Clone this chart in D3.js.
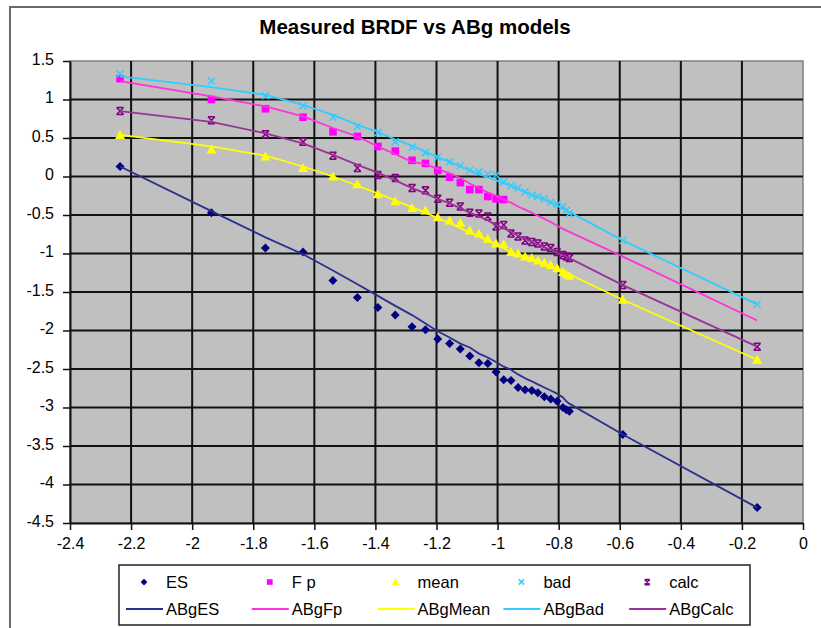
<!DOCTYPE html>
<html>
<head>
<meta charset="utf-8">
<script src="https://cdn.jsdelivr.net/npm/d3@7"></script>
<style>
    body { margin: 0; background: #fff; }
    text { font-family: Arial, "Liberation Sans", sans-serif; }
</style>
</head>
<body>
<div id="chart"></div>
<script>
// x values shared by every series (log scale angle)
const logAngle = [-2.236, -1.937, -1.760, -1.637, -1.539, -1.459, -1.392, -1.335, -1.280, -1.236,
    -1.196, -1.157, -1.122, -1.091, -1.061, -1.032, -1.005, -0.980, -0.956, -0.933,
    -0.910, -0.888, -0.868, -0.847, -0.826, -0.805, -0.786, -0.775, -0.765, -0.590, -0.150];

// measured BRDF
const esVals = [0.13, -0.47, -0.93, -0.98, -1.35, -1.57, -1.70, -1.80, -1.95, -1.99,
    -2.11, -2.17, -2.24, -2.33, -2.42, -2.43, -2.54, -2.64, -2.65, -2.74,
    -2.77, -2.78, -2.81, -2.86, -2.89, -2.92, -3.00, -3.03, -3.05, -3.35, -4.30];
const fpVals = [1.27, 1.00, 0.88, 0.77, 0.58, 0.52, 0.39, 0.33, 0.21, 0.17,
    0.08, -0.01, -0.08, -0.17, -0.17, -0.26, -0.29, -0.30, null, null,
    null, null, null, null, null, null, null, null, null, null, null];
const meanVals = [0.54, 0.35, 0.26, 0.11, 0.00, -0.10, -0.23, -0.32, -0.41, -0.44,
    -0.53, -0.57, -0.60, -0.70, -0.74, -0.81, -0.87, -0.88, -0.98, -1.00,
    -1.04, -1.06, -1.09, -1.12, -1.15, -1.19, -1.24, -1.27, -1.29, -1.60, -2.38];
const badVals = [1.33, 1.24, 1.05, 0.92, 0.77, 0.65, 0.57, 0.45, 0.38, 0.31,
    0.25, 0.19, 0.14, 0.08, 0.06, 0.03, 0.02, -0.07, -0.12, -0.15,
    -0.20, -0.24, -0.26, -0.29, -0.33, -0.36, -0.39, -0.44, -0.48, -0.83, -1.66];
const calcVals = [0.85, 0.73, 0.55, 0.45, 0.27, 0.11, 0.02, -0.02, -0.15, -0.18,
    -0.29, -0.34, -0.39, -0.47, -0.48, -0.52, -0.65, -0.63, -0.74, -0.78,
    -0.83, -0.85, -0.87, -0.91, -0.93, -0.98, -1.02, -1.04, -1.06, -1.41, -2.21];

// ABg model curves
const abgES = [0.13, -0.45, -0.79, -1.01, -1.22, -1.40, -1.55, -1.68, -1.80, -1.91,
    -2.01, -2.09, -2.17, -2.22, -2.30, -2.35, -2.41, -2.47, -2.51, -2.57,
    -2.62, -2.66, -2.70, -2.74, -2.78, -2.82, -2.87, -2.92, -2.95, -3.35, -4.30];
const abgFp = [1.24, 1.04, 0.91, 0.78, 0.63, 0.52, 0.39, 0.29, 0.19, 0.16,
    0.10, 0.04, -0.02, -0.09, -0.15, -0.21, -0.25, -0.30, -0.34, -0.39,
    -0.43, -0.47, -0.51, -0.55, -0.59, -0.64, -0.68, -0.70, -0.72, -1.04, -1.87];
const abgMean = [0.54, 0.39, 0.27, 0.13, 0.00, -0.12, -0.22, -0.31, -0.40, -0.47,
    -0.54, -0.60, -0.67, -0.73, -0.78, -0.83, -0.89, -0.93, -0.98, -1.01,
    -1.04, -1.07, -1.10, -1.13, -1.16, -1.20, -1.23, -1.25, -1.27, -1.60, -2.38];
const abgBad = [1.30, 1.16, 1.06, 0.93, 0.80, 0.67, 0.58, 0.48, 0.40, 0.32,
    0.25, 0.19, 0.13, 0.08, 0.03, -0.01, -0.05, -0.09, -0.12, -0.16,
    -0.20, -0.24, -0.27, -0.30, -0.34, -0.38, -0.42, -0.44, -0.46, -0.83, -1.66];
const abgCalc = [0.85, 0.71, 0.56, 0.43, 0.28, 0.15, 0.05, -0.05, -0.15, -0.22,
    -0.29, -0.35, -0.41, -0.47, -0.52, -0.57, -0.63, -0.67, -0.72, -0.77,
    -0.81, -0.85, -0.88, -0.92, -0.95, -0.99, -1.02, -1.04, -1.06, -1.41, -2.21];

const xTicks = [-2.4, -2.2, -2, -1.8, -1.6, -1.4, -1.2, -1, -0.8, -0.6, -0.4, -0.2, 0];
const yTicks = [1.5, 1, 0.5, 0, -0.5, -1, -1.5, -2, -2.5, -3, -3.5, -4, -4.5];

const pointSeries = [
    { name: 'ES', values: esVals, color: '#000080', marker: 'diamond' },
    { name: 'F p', values: fpVals, color: '#ff00ff', marker: 'square' },
    { name: 'mean', values: meanVals, color: '#ffff00', marker: 'triangle' },
    { name: 'bad', values: badVals, color: '#33ccff', marker: 'cross' },
    { name: 'calc', values: calcVals, color: '#800080', marker: 'star' }
];
const lineSeries = [
    { name: 'ABgES', values: abgES, color: '#2b2f8f' },
    { name: 'ABgFp', values: abgFp, color: '#ff33dd' },
    { name: 'ABgMean', values: abgMean, color: '#ffff00' },
    { name: 'ABgBad', values: abgBad, color: '#33ccff' },
    { name: 'ABgCalc', values: abgCalc, color: '#993399' }
];

class BrdfChart {

    constructor(_config) {
        this.config = {
            parentElement: _config.parentElement,
            containerWidth: _config.containerWidth || 821,
            containerHeight: _config.containerHeight || 628,
            plot: _config.plot
        };
        this.initVis();
    }

    initVis() {
        let vis = this;
        const p = vis.config.plot;

        vis.svg = d3.select(vis.config.parentElement)
            .append('svg')
            .attr('width', vis.config.containerWidth)
            .attr('height', vis.config.containerHeight);

        // chart area frame (right and bottom edges are cropped off in the original)
        vis.svg.append('rect')
            .attr('x', 10).attr('y', 7)
            .attr('width', 830).attr('height', 640)
            .attr('fill', '#fff')
            .attr('stroke', '#6a6a6a')
            .attr('stroke-width', 2);

        vis.xScale = d3.scaleLinear().domain([-2.4, 0]).range([p.left, p.right]);
        vis.yScale = d3.scaleLinear().domain([-4.5, 1.5]).range([p.bottom, p.top]);

        vis.svg.append('rect')
            .attr('x', p.left).attr('y', p.top)
            .attr('width', p.right - p.left).attr('height', p.bottom - p.top)
            .attr('fill', '#c0c0c0')
            .attr('stroke', '#808080')
            .attr('stroke-width', 1.5);

        vis.svg.append('text')
            .attr('x', 415).attr('y', 34)
            .attr('text-anchor', 'middle')
            .attr('font-size', 20.5)
            .attr('font-weight', 'bold')
            .text('Measured BRDF vs ABg models');
    }

    renderVis() {
        let vis = this;
        const p = vis.config.plot;
        const x = vis.xScale, y = vis.yScale;

        // grid
        vis.svg.append('g').selectAll('line.h')
            .data(yTicks.slice(1, -1))
            .join('line')
            .attr('x1', p.left).attr('x2', p.right)
            .attr('y1', d => y(d)).attr('y2', d => y(d))
            .attr('stroke', '#111').attr('stroke-width', 2);

        vis.svg.append('g').selectAll('line.v')
            .data(xTicks.slice(1, -1))
            .join('line')
            .attr('x1', d => x(d)).attr('x2', d => x(d))
            .attr('y1', p.top).attr('y2', p.bottom)
            .attr('stroke', '#111').attr('stroke-width', 2);

        // axes
        const xAxis = d3.axisBottom(x).tickValues(xTicks).tickSize(7).tickSizeOuter(0)
            .tickFormat(d => String(d));
        const yAxis = d3.axisLeft(y).tickValues(yTicks).tickSize(7).tickSizeOuter(0)
            .tickFormat(d => String(d));

        const xg = vis.svg.append('g')
            .attr('transform', `translate(0,${p.bottom})`)
            .call(xAxis);
        const yg = vis.svg.append('g')
            .attr('transform', `translate(${p.left},0)`)
            .call(yAxis);

        [xg, yg].forEach(g => {
            g.select('.domain').attr('stroke', '#111').attr('stroke-width', 2);
            g.selectAll('.tick line').attr('stroke', '#111').attr('stroke-width', 1.5);
            g.selectAll('.tick text')
                .attr('font-size', 16)
                .attr('font-family', 'Arial, "Liberation Sans", sans-serif')
                .attr('fill', '#000');
        });
        xg.selectAll('.tick text').attr('y', 12).attr('dy', '0.9em');
        yg.selectAll('.tick text').attr('x', -16).attr('dy', '0.2em');

        const marks = vis.svg.append('g');

        // measured points
        pointSeries.forEach(s => {
            const pts = logAngle.map((a, i) => ({ a: a, v: s.values[i] }))
                .filter(d => d.v !== null);
            marks.append('g').selectAll('path')
                .data(pts)
                .join('path')
                .attr('transform', d => `translate(${x(d.a)},${y(d.v)})`)
                .call(sel => drawMarker(sel, s, 1));
        });

        // model curves
        const line = d3.line()
            .x((d, i) => x(logAngle[i]))
            .y(d => y(d));

        lineSeries.forEach(s => {
            marks.append('path')
                .datum(s.values)
                .attr('fill', 'none')
                .attr('stroke', s.color)
                .attr('stroke-width', 1.8)
                .attr('d', line);
        });

        vis.renderLegend();
    }

    renderLegend() {
        let vis = this;
        const lg = vis.svg.append('g');

        lg.append('rect')
            .attr('x', 119).attr('y', 565)
            .attr('width', 631).attr('height', 60)
            .attr('fill', '#fff')
            .attr('stroke', '#222')
            .attr('stroke-width', 1.5);

        const colX = d3.range(5).map(i => 126 + i * 125.8);

        pointSeries.forEach((s, i) => {
            lg.append('path')
                .attr('transform', `translate(${colX[i] + 18},582)`)
                .call(sel => drawMarker(sel, s, 0.75));
            lg.append('text')
                .attr('x', colX[i] + 40).attr('y', 588)
                .attr('font-size', 16.5)
                .text(s.name);
        });

        lineSeries.forEach((s, i) => {
            lg.append('line')
                .attr('x1', colX[i]).attr('x2', colX[i] + 37)
                .attr('y1', 609).attr('y2', 609)
                .attr('stroke', s.color)
                .attr('stroke-width', 1.8);
            lg.append('text')
                .attr('x', colX[i] + 40).attr('y', 614.5)
                .attr('font-size', 16.5)
                .text(s.name);
        });
    }
}

// marker glyphs, drawn around (0,0)
function drawMarker(sel, s, k) {
    const r = 4.5 * k;
    let d;
    if (s.marker === 'diamond') {
        d = `M0,${-r}L${r},0L0,${r}L${-r},0Z`;
    } else if (s.marker === 'square') {
        const h = 3.8 * k;
        d = `M${-h},${-h}H${h}V${h}H${-h}Z`;
    } else if (s.marker === 'triangle') {
        const t = 5 * k;
        d = `M0,${-t}L${t},${t * 0.8}L${-t},${t * 0.8}Z`;
    } else if (s.marker === 'cross') {
        const c = 3.5 * k;
        d = `M${-c},${-c}L${c},${c}M${c},${-c}L${-c},${c}`;
    } else {
        const c = 3.5 * k;
        d = `M${-c},${-c}L${c},${c}M${c},${-c}L${-c},${c}M${-c},${-c}H${c}M${-c},${c}H${c}`;
    }
    sel.attr('d', d);
    if (s.marker === 'cross' || s.marker === 'star') {
        sel.attr('fill', 'none').attr('stroke', s.color).attr('stroke-width', 1.5);
    } else {
        sel.attr('fill', s.color).attr('stroke', 'none');
    }
}

const chart = new BrdfChart({
    parentElement: '#chart',
    plot: { left: 70, right: 803, top: 61, bottom: 523 }
});
chart.renderVis();
</script>
</body>
</html>
